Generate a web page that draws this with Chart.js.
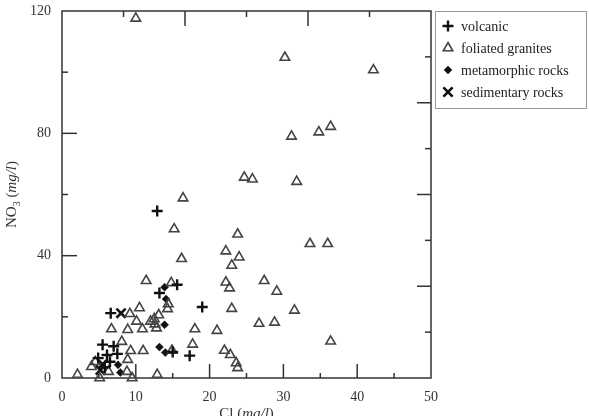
<!DOCTYPE html>
<html>
<head>
<meta charset="utf-8">
<script src="https://cdn.jsdelivr.net/npm/chart.js@4.4.0/dist/chart.umd.min.js"></script>
<style>
    html, body { margin: 0; padding: 0; background: #fff; }
</style>
</head>
<body>
<canvas id="chart" width="589" height="416"></canvas>
<script>
// Series names (legend order)
const seriesNames = ['volcanic', 'foliated granites', 'metamorphic rocks', 'sedimentary rocks'];

// Cl (mg/l) / NO3 (mg/l) per rock type
const volcanicCl  = [12.9, 15.6, 13.2, 19.0, 6.6, 17.3, 15.0, 5.5, 7.0, 7.5, 6.1, 4.9, 6.5, 5.8];
const volcanicNO3 = [54.6, 30.5, 27.8, 23.2, 21.2, 7.3, 8.5, 10.9, 10.4, 7.9, 7.5, 6.5, 5.3, 3.5];

const graniteCl  = [10.0, 30.2, 42.2, 36.4, 34.8, 31.1, 24.7, 25.8, 31.8, 16.4, 15.2, 23.8, 33.6, 36.0,
                    22.2, 24.0, 16.2, 23.0, 11.4, 14.8, 22.2, 27.4, 22.7, 29.1, 14.4, 14.3, 10.5, 23.0,
                    31.5, 9.2, 13.1, 12.5, 12.0, 10.1, 12.6, 12.8, 10.9, 8.9, 6.7, 18.0, 21.0, 26.7,
                    28.8, 36.4, 17.7, 8.1, 11.0, 9.3, 22.0, 22.8, 23.6, 23.8, 8.9, 2.1, 5.1, 9.5,
                    12.9, 14.9, 4.5, 6.3, 8.8, 4.0];
const graniteNO3 = [117.6, 104.8, 100.7, 82.2, 80.4, 79.0, 65.6, 65.0, 64.2, 58.8, 48.7, 47.0, 43.9, 43.9,
                    41.5, 39.5, 39.0, 36.8, 31.8, 31.1, 31.3, 31.8, 29.4, 28.3, 24.2, 22.6, 22.9, 22.7,
                    22.1, 21.0, 20.6, 19.3, 18.5, 18.5, 17.6, 16.3, 16.0, 15.8, 16.0, 16.0, 15.5, 17.8,
                    18.2, 12.0, 11.0, 11.9, 8.9, 8.9, 9.0, 7.6, 4.9, 3.3, 6.0, 1.1, 0.0, 0.0,
                    1.1, 9.0, 5.3, 2.1, 2.1, 3.7];

const metaCl  = [13.9, 14.1, 13.9, 13.2, 14.0, 7.6, 7.9];
const metaNO3 = [29.7, 25.8, 17.4, 10.1, 8.3, 4.3, 1.8];

const sedCl  = [8.0, 5.2, 5.5];
const sedNO3 = [21.2, 2.6, 4.5];

// Axis tick labels
const xTickValues = [0, 10, 20, 30, 40, 50];
const yTickValues = [0, 40, 80, 120];

const toPoints = (xs, ys) => xs.map((v, i) => ({ x: v, y: ys[i] }));

const serif = '"Liberation Serif", "DejaVu Serif", serif';
const ink = '#333';

// Inward ticks on all four sides of the frame
const frameTicks = {
    id: 'frameTicks',
    beforeDatasetsDraw(chart) {
        const { ctx, chartArea: a, scales: { x, y } } = chart;
        const line = (x1, y1, x2, y2) => {
            ctx.beginPath();
            ctx.moveTo(x1, y1);
            ctx.lineTo(x2, y2);
            ctx.stroke();
        };
        ctx.save();
        ctx.strokeStyle = ink;
        ctx.lineWidth = 1.5;
        ctx.strokeRect(a.left, a.top, a.width, a.height);
        // bottom: every 5, major every 10
        for (let v = 5; v < 50; v += 5) {
            const px = x.getPixelForValue(v);
            line(px, a.bottom, px, a.bottom - (v % 10 ? 5 : 14));
        }
        // top: every 50/6, alternating
        for (let k = 1; k < 6; k++) {
            const px = x.getPixelForValue(k * 50 / 6);
            line(px, a.top, px, a.top + (k % 2 ? 6 : 15));
        }
        // left: every 20, major every 40
        for (let v = 20; v < 120; v += 20) {
            const py = y.getPixelForValue(v);
            line(a.left, py, a.left + (v % 40 ? 6 : 15), py);
        }
        // right: every 15, major every 30
        for (let v = 15; v < 120; v += 15) {
            const py = y.getPixelForValue(v);
            line(a.right, py, a.right - (v % 30 ? 6 : 14), py);
        }
        ctx.restore();
    }
};

// Axis titles with subscript and italic units
const axisTitles = {
    id: 'axisTitles',
    afterDraw(chart) {
        const { ctx, chartArea: a } = chart;
        const parts = (list) => {
            let w = 0;
            list.forEach(p => { ctx.font = p.font; w += ctx.measureText(p.text).width; });
            return w;
        };
        const drawParts = (list, x0, y0) => {
            let cx = x0;
            list.forEach(p => {
                ctx.font = p.font;
                ctx.fillText(p.text, cx, y0 + (p.dy || 0));
                cx += ctx.measureText(p.text).width;
            });
        };
        ctx.save();
        ctx.fillStyle = ink;
        ctx.textBaseline = 'alphabetic';
        ctx.textAlign = 'left';

        const xt = [
            { text: 'Cl (', font: '15px ' + serif },
            { text: 'mg/l', font: 'italic 15px ' + serif },
            { text: ')', font: '15px ' + serif }
        ];
        const xw = parts(xt);
        drawParts(xt, (a.left + a.right) / 2 - xw / 2, 418);

        const yt = [
            { text: 'NO', font: '15px ' + serif },
            { text: '3', font: '10px ' + serif, dy: 4 },
            { text: ' (', font: '15px ' + serif },
            { text: 'mg/l', font: 'italic 15px ' + serif },
            { text: ')', font: '15px ' + serif }
        ];
        const yw = parts(yt);
        ctx.translate(16, (a.top + a.bottom) / 2);
        ctx.rotate(-Math.PI / 2);
        drawParts(yt, -yw / 2, 0);
        ctx.restore();
    }
};

// Boxed legend to the right of the plot
const boxLegend = {
    id: 'boxLegend',
    afterDraw(chart) {
        const { ctx } = chart;
        ctx.save();
        ctx.strokeStyle = '#999';
        ctx.lineWidth = 1;
        ctx.strokeRect(435.5, 11.5, 151, 97);
        ctx.font = '14px ' + serif;
        ctx.textBaseline = 'middle';
        ctx.textAlign = 'left';
        chart.data.datasets.forEach((ds, i) => {
            const cy = 26 + i * 22;
            ctx.strokeStyle = ds.borderColor;
            ctx.fillStyle = ds.backgroundColor;
            ctx.lineWidth = ds.borderWidth;
            Chart.helpers.drawPoint(ctx, {
                pointStyle: ds.pointStyle,
                rotation: 0,
                radius: ds.pointRadius,
                borderWidth: ds.borderWidth
            }, 448, cy);
            ctx.fillStyle = '#222';
            ctx.fillText(ds.label, 461, cy + 1);
        });
        ctx.restore();
    }
};

new Chart(document.getElementById('chart'), {
    type: 'scatter',
    data: {
        datasets: [
            {
                label: seriesNames[0],
                data: toPoints(volcanicCl, volcanicNO3),
                pointStyle: 'cross',
                pointRadius: 5.5,
                borderWidth: 2.4,
                borderColor: '#111',
                backgroundColor: '#111',
                clip: false
            },
            {
                label: seriesNames[1],
                data: toPoints(graniteCl, graniteNO3),
                pointStyle: 'triangle',
                pointRadius: 5.5,
                borderWidth: 1.6,
                borderColor: '#444',
                backgroundColor: 'rgba(255,255,255,0)',
                clip: false
            },
            {
                label: seriesNames[2],
                data: toPoints(metaCl, metaNO3),
                pointStyle: 'rectRot',
                pointRadius: 4,
                borderWidth: 0.5,
                borderColor: '#111',
                backgroundColor: '#111',
                clip: false
            },
            {
                label: seriesNames[3],
                data: toPoints(sedCl, sedNO3),
                pointStyle: 'crossRot',
                pointRadius: 6.5,
                borderWidth: 2.6,
                borderColor: '#111',
                backgroundColor: '#111',
                clip: false
            }
        ]
    },
    options: {
        responsive: false,
        animation: false,
        layout: { padding: { top: 11, right: 158, left: 0, bottom: 0 } },
        plugins: {
            legend: { display: false },
            tooltip: { enabled: false }
        },
        scales: {
            x: {
                type: 'linear',
                min: 0,
                max: 50,
                afterBuildTicks: (s) => { s.ticks = xTickValues.map(v => ({ value: v })); },
                afterFit: (s) => { s.height = 38; s.paddingLeft = 0; s.paddingRight = 0; },
                grid: { display: false, drawTicks: false },
                border: { display: false },
                ticks: { color: ink, padding: 11, font: { family: serif, size: 14 } }
            },
            y: {
                type: 'linear',
                min: 0,
                max: 120,
                afterBuildTicks: (s) => { s.ticks = yTickValues.map(v => ({ value: v })); },
                afterFit: (s) => { s.width = 62; s.paddingTop = 0; s.paddingBottom = 0; },
                grid: { display: false, drawTicks: false },
                border: { display: false },
                ticks: { color: ink, padding: 11, font: { family: serif, size: 14 } }
            }
        }
    },
    plugins: [frameTicks, axisTitles, boxLegend]
});
</script>
</body>
</html>
